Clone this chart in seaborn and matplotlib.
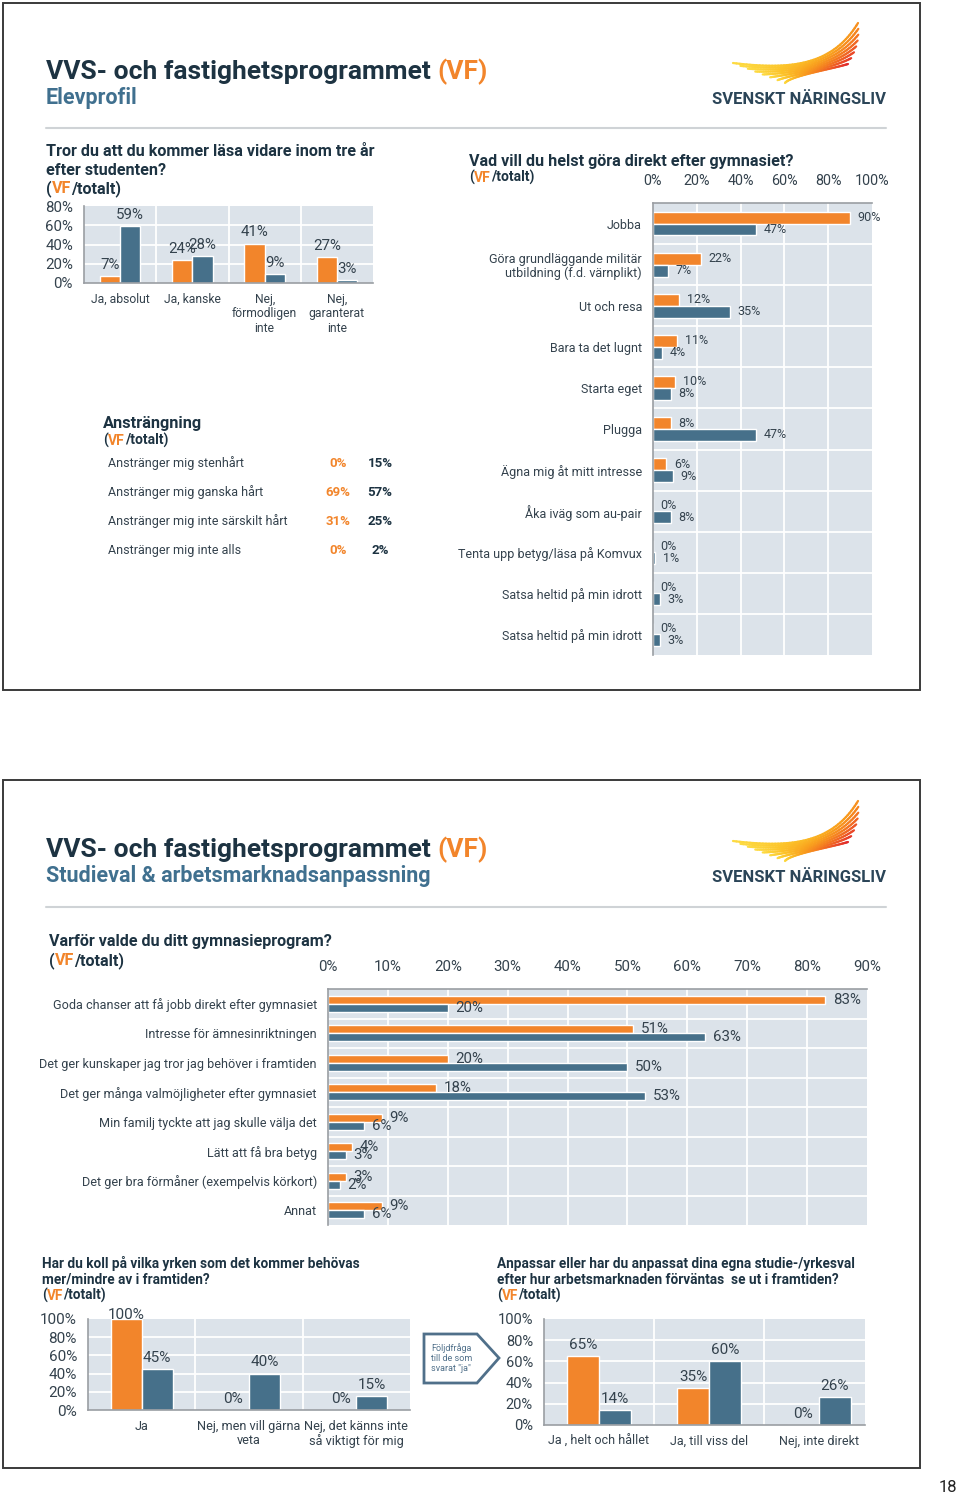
import numpy as np
import pandas as pd
import matplotlib
matplotlib.use("Agg")
import matplotlib.pyplot as plt
import seaborn as sns
from matplotlib.patches import Rectangle, Polygon
from matplotlib.collections import LineCollection
from matplotlib.colors import LinearSegmentedColormap

# ---------------- data ----------------
q1_cats = ["Ja, absolut", "Ja, kanske", "Nej,\nförmodligen\ninte", "Nej,\ngaranterat\ninte"]
q1_vf = [7, 24, 41, 27]
q1_tot = [59, 28, 9, 3]
q1_ticks = [0, 20, 40, 60, 80]

q2_cats = ["Jobba", "Göra grundläggande militär\nutbildning (f.d. värnplikt)", "Ut och resa",
           "Bara ta det lugnt", "Starta eget", "Plugga", "Ägna mig åt mitt intresse",
           "Åka iväg som au-pair", "Tenta upp betyg/läsa på Komvux",
           "Satsa heltid på min idrott", "Satsa heltid på min idrott"]
q2_vf = [90, 22, 12, 11, 10, 8, 6, 0, 0, 0, 0]
q2_tot = [47, 7, 35, 4, 8, 47, 9, 8, 1, 3, 3]
q2_ticks = [0, 20, 40, 60, 80, 100]

eff_rows = ["Anstränger mig stenhårt", "Anstränger mig ganska hårt",
            "Anstränger mig inte särskilt hårt", "Anstränger mig inte alls"]
eff_vf = [0, 69, 31, 0]
eff_tot = [15, 57, 25, 2]

q3_cats = ["Goda chanser att få jobb direkt efter gymnasiet", "Intresse för ämnesinriktningen",
           "Det ger kunskaper jag tror jag behöver i framtiden",
           "Det ger många valmöjligheter efter gymnasiet", "Min familj tyckte att jag skulle välja det",
           "Lätt att få bra betyg", "Det ger bra förmåner (exempelvis körkort)", "Annat"]
q3_vf = [83, 51, 20, 18, 9, 4, 3, 9]
q3_tot = [20, 63, 50, 53, 6, 3, 2, 6]
q3_ticks = [0, 10, 20, 30, 40, 50, 60, 70, 80, 90]

q4_cats = ["Ja", "Nej, men vill gärna\nveta", "Nej, det känns inte\nså viktigt för mig"]
q4_vf = [100, 0, 0]
q4_tot = [45, 40, 15]
q4_ticks = [0, 20, 40, 60, 80, 100]

q5_cats = ["Ja , helt och hållet", "Ja, till viss del", "Nej, inte direkt"]
q5_vf = [65, 35, 0]
q5_tot = [14, 60, 26]
q5_ticks = [0, 20, 40, 60, 80, 100]

# ---------------- style ----------------
W, H = 960, 1495
ORANGE = "#f2852b"
BLUE = "#46708a"
DARK = "#1d3342"
TEXT = "#34424d"
SUB = "#40708f"
PLOTBG = "#dce3ea"
AXIS = "#9a9ea3"

sns.set_theme(style="white")
plt.rcParams["font.family"] = ["Roboto", "DejaVu Sans"]

fig = plt.figure(figsize=(W / 100, H / 100), dpi=100)
fig.patch.set_facecolor("white")
renderer = fig.canvas.get_renderer()

ov = fig.add_axes([0, 0, 1, 1])
ov.set_xlim(0, W)
ov.set_ylim(H, 0)
ov.axis("off")


def add_ax(x0, y0, x1, y1):
    return fig.add_axes([x0 / W, 1 - y1 / H, (x1 - x0) / W, (y1 - y0) / H])


def text_w(s, size, weight):
    if not s.strip():
        return 0.0
    tmp = ov.text(0, 0, s, fontsize=size, fontweight=weight)
    w = tmp.get_window_extent(renderer).width
    tmp.remove()
    return w


def rich(x, y, parts, size, weight="bold"):
    # multi-coloured text: each piece starts where it sits inside the full string
    acc = ""
    for s, c in parts:
        core = s.lstrip()
        xk = x + text_w(acc + s, size, weight) - text_w(core, size, weight) if acc else x
        ov.text(xk, y, core, color=c, fontsize=size, fontweight=weight, va="baseline", ha="left")
        acc += s


def long_df(cats, vf, tot):
    keys = [f"c{i}" for i in range(len(cats))]
    df = pd.DataFrame({"key": keys * 2, "val": list(vf) + list(tot),
                       "grp": ["VF"] * len(cats) + ["Totalt"] * len(cats)})
    return df, keys


def style_common(ax):
    ax.set_facecolor(PLOTBG)
    ax.set_xlabel("")
    ax.set_ylabel("")
    ax.tick_params(length=0, colors=TEXT)
    for s in ax.spines.values():
        s.set_visible(False)


def vchart(ax, cats, vf, tot, ymax, ticks, width, fs_tick, fs_cat, fs_lab, xlim=None, xpad=5, ypad=8):
    df, keys = long_df(cats, vf, tot)
    sns.barplot(data=df, x="key", y="val", hue="grp", order=keys, hue_order=["VF", "Totalt"],
                palette=[ORANGE, BLUE], width=width, gap=0, saturation=1, errorbar=None,
                legend=False, ax=ax, zorder=2)
    style_common(ax)
    ax.set_ylim(0, ymax)
    if xlim is None:
        ax.set_xlim(-0.5, len(cats) - 0.5)
    else:
        ax.set_xlim(*xlim)
    ax.set_yticks(ticks)
    ax.set_yticklabels([f"{t}%" for t in ticks], fontsize=fs_tick)
    ax.set_xticks(range(len(cats)))
    ax.set_xticklabels(cats, fontsize=fs_cat, linespacing=1.15)
    ax.tick_params(axis="x", pad=xpad)
    ax.tick_params(axis="y", pad=ypad)
    for t in ticks[1:-1]:
        ax.axhline(t, color="white", lw=1.3, zorder=1)
    for i in range(1, len(cats)):
        ax.axvline(i - 0.5, color="white", lw=1.3, zorder=1)
    for side in ("left", "bottom"):
        ax.spines[side].set_visible(True)
        ax.spines[side].set_color(AXIS)
        ax.spines[side].set_linewidth(1.2)
    for cont, vals in zip(ax.containers, [vf, tot]):
        txts = ax.bar_label(cont, labels=[f"{v}%" for v in vals], padding=3, fontsize=fs_lab, color=TEXT)
        for txt, v in zip(txts, vals):
            if v >= 0.95 * ymax:  # keep labels of full-height bars just inside the frame
                txt.xyann = (0, -2)


def hchart(ax, cats, vf, tot, xmax, ticks, width, fs_tick, fs_cat, fs_lab, pad_lab=5):
    df, keys = long_df(cats, vf, tot)
    sns.barplot(data=df, x="val", y="key", hue="grp", order=keys, hue_order=["VF", "Totalt"],
                orient="h", palette=[ORANGE, BLUE], width=width, gap=0, saturation=1,
                errorbar=None, legend=False, ax=ax, zorder=2)
    style_common(ax)
    ax.set_xlim(0, xmax)
    ax.set_ylim(len(cats) - 0.5, -0.5)
    ax.xaxis.tick_top()
    ax.set_xticks(ticks)
    ax.set_xticklabels([f"{t}%" for t in ticks], fontsize=fs_tick)
    ax.set_yticks(range(len(cats)))
    ax.set_yticklabels(cats, fontsize=fs_cat, linespacing=1.1)
    ax.tick_params(axis="x", pad=10.5)
    ax.tick_params(axis="y", pad=8)
    for i in range(1, len(cats)):
        ax.axhline(i - 0.5, color="white", lw=1.3, zorder=1)
    for t in ticks[1:-1]:
        ax.axvline(t, color="white", lw=1.3, zorder=1)
    for side in ("left", "top"):
        ax.spines[side].set_visible(True)
        ax.spines[side].set_color(AXIS)
        ax.spines[side].set_linewidth(1.2)
    for cont, vals in zip(ax.containers, [vf, tot]):
        ax.bar_label(cont, labels=[f"{v}%" for v in vals], padding=pad_lab, fontsize=fs_lab, color=TEXT)


wing_cmap = LinearSegmentedColormap.from_list(
    "wing", ["#fde24a", "#fcc42a", "#f9a11e", "#f47b20", "#ec4f27", "#e0282d"])


def logo(dy):
    n = 8
    for i in range(n):
        f = i / (n - 1)
        p0 = np.array([733 + 52 * f, 63 + 20 * f + dy])
        p1 = np.array([790, 70 + 6 * f + dy])
        p2 = np.array([832, 66 + 3 * f + dy])
        p3 = np.array([858 + 4 * np.sin(np.pi * f) - 10 * f, 23 + 41 * f + dy])
        t = np.linspace(0, 1, 50)
        pts = (((1 - t) ** 3)[:, None] * p0 + (3 * (1 - t) ** 2 * t)[:, None] * p1 +
               (3 * (1 - t) * t ** 2)[:, None] * p2 + (t ** 3)[:, None] * p3)
        segs = np.stack([pts[:-1], pts[1:]], axis=1)
        vals = 0.05 + t[:-1] * (0.45 + 0.5 * f)
        lc = LineCollection(segs, cmap=wing_cmap, linewidths=1.6, capstyle="round")
        lc.set_array(vals)
        lc.set_clim(0, 1)
        ov.add_collection(lc)
    ov.text(712, 104 + dy, "SVENSKT NÄRINGSLIV", color="#2b4558", fontsize=12,
            fontweight="bold", va="baseline", ha="left")


# ---------------- slide frames ----------------
ov.add_patch(Rectangle((3, 3), 917, 687, fill=False, ec="#3a3a3a", lw=1.4))
ov.add_patch(Rectangle((3, 780), 917, 688, fill=False, ec="#3a3a3a", lw=1.4))
ov.text(948, 1487, "18", fontsize=12, color="#222222", ha="center", va="center")

# ---------------- slide 1 ----------------
rich(46, 79, [("VVS- och fastighetsprogrammet", DARK), (" (VF)", ORANGE)], 19)
ov.text(46, 104, "Elevprofil", color=SUB, fontsize=15.5, fontweight="bold", va="baseline")
ov.plot([46, 886], [128, 128], color="#cfd3d6", lw=1.5)
logo(0)

ov.text(46, 156, "Tror du att du kommer läsa vidare inom tre år", color=DARK, fontsize=11.6,
        fontweight="bold", va="baseline")
ov.text(46, 175, "efter studenten?", color=DARK, fontsize=11.6, fontweight="bold", va="baseline")
rich(46, 193, [("(", DARK), ("VF", ORANGE), ("/totalt)", DARK)], 11.6)

ax1 = add_ax(84, 206, 373, 283)
vchart(ax1, q1_cats, q1_vf, q1_tot, 80, q1_ticks, 0.56, 10.8, 8.7, 10.8, xpad=7, ypad=8)

ov.text(469, 166, "Vad vill du helst göra direkt efter gymnasiet?", color=DARK, fontsize=11.6,
        fontweight="bold", va="baseline")
rich(469, 182, [("(", DARK), ("VF", ORANGE), ("/totalt)", DARK)], 10)

ax2 = add_ax(653, 203, 872, 655)
hchart(ax2, q2_cats, q2_vf, q2_tot, 100, q2_ticks, 0.58, 10.4, 9, 9, pad_lab=5.5)

# effort table
ov.text(103, 428, "Ansträngning", color=DARK, fontsize=11.8, fontweight="bold", va="baseline")
rich(103, 445, [("(", DARK), ("VF", ORANGE), ("/totalt)", DARK)], 10)
for i, (lab, v, t) in enumerate(zip(eff_rows, eff_vf, eff_tot)):
    yb = 467 + 29 * i
    ov.text(108, yb, lab, color=TEXT, fontsize=9, va="baseline")
    ov.text(338, yb, f"{v}%", color=ORANGE, fontsize=9.5, fontweight="bold", va="baseline", ha="center")
    ov.text(380, yb, f"{t}%", color=DARK, fontsize=9.5, fontweight="bold", va="baseline", ha="center")

# ---------------- slide 2 ----------------
rich(46, 857, [("VVS- och fastighetsprogrammet", DARK), (" (VF)", ORANGE)], 19)
ov.text(46, 882, "Studieval & arbetsmarknadsanpassning", color=SUB, fontsize=15.5,
        fontweight="bold", va="baseline")
ov.plot([46, 886], [907, 907], color="#cfd3d6", lw=1.5)
logo(778)

ov.text(49, 946, "Varför valde du ditt gymnasieprogram?", color=DARK, fontsize=11.6,
        fontweight="bold", va="baseline")
rich(49, 965, [("(", DARK), ("VF", ORANGE), ("/totalt)", DARK)], 11.6)

ax3 = add_ax(328, 989, 867, 1225)
hchart(ax3, q3_cats, q3_vf, q3_tot, 90, q3_ticks, 0.54, 10.8, 9.1, 10.8, pad_lab=5.5)

ov.text(42, 1268, "Har du koll på vilka yrken som det kommer behövas", color=DARK, fontsize=9.85,
        fontweight="bold", va="baseline")
ov.text(42, 1284, "mer/mindre av i framtiden?", color=DARK, fontsize=9.85, fontweight="bold", va="baseline")
rich(42, 1300, [("(", DARK), ("VF", ORANGE), ("/totalt)", DARK)], 9.85)

ax4 = add_ax(88, 1319, 410, 1410)
vchart(ax4, q4_cats, q4_vf, q4_tot, 100, q4_ticks, 0.58, 11, 9.2, 11, xpad=7, ypad=8)

ov.text(497, 1268, "Anpassar eller har du anpassat dina egna studie-/yrkesval", color=DARK,
        fontsize=9.8, fontweight="bold", va="baseline")
ov.text(497, 1284, "efter hur arbetsmarknaden förväntas  se ut i framtiden?", color=DARK,
        fontsize=9.8, fontweight="bold", va="baseline")
rich(497, 1300, [("(", DARK), ("VF", ORANGE), ("/totalt)", DARK)], 9.8)

ax5 = add_ax(544, 1319, 865, 1425)
vchart(ax5, q5_cats, q5_vf, q5_tot, 100, q5_ticks, 0.58, 10.5, 9, 11, xlim=(-0.5, 2.42), xpad=7, ypad=8)

# follow-up arrow box
ov.add_patch(Polygon([(424, 1334), (477, 1334), (499, 1358), (477, 1383), (424, 1383)],
                     closed=True, fc="white", ec="#50708a", lw=2, zorder=3))
ov.text(431, 1358, "Följdfråga\ntill de som\nsvarat \"ja\"", color="#50708a", fontsize=6.5,
        ha="left", va="center", linespacing=1.15, zorder=4)

fig.savefig("out.png", dpi=100, facecolor="white")
